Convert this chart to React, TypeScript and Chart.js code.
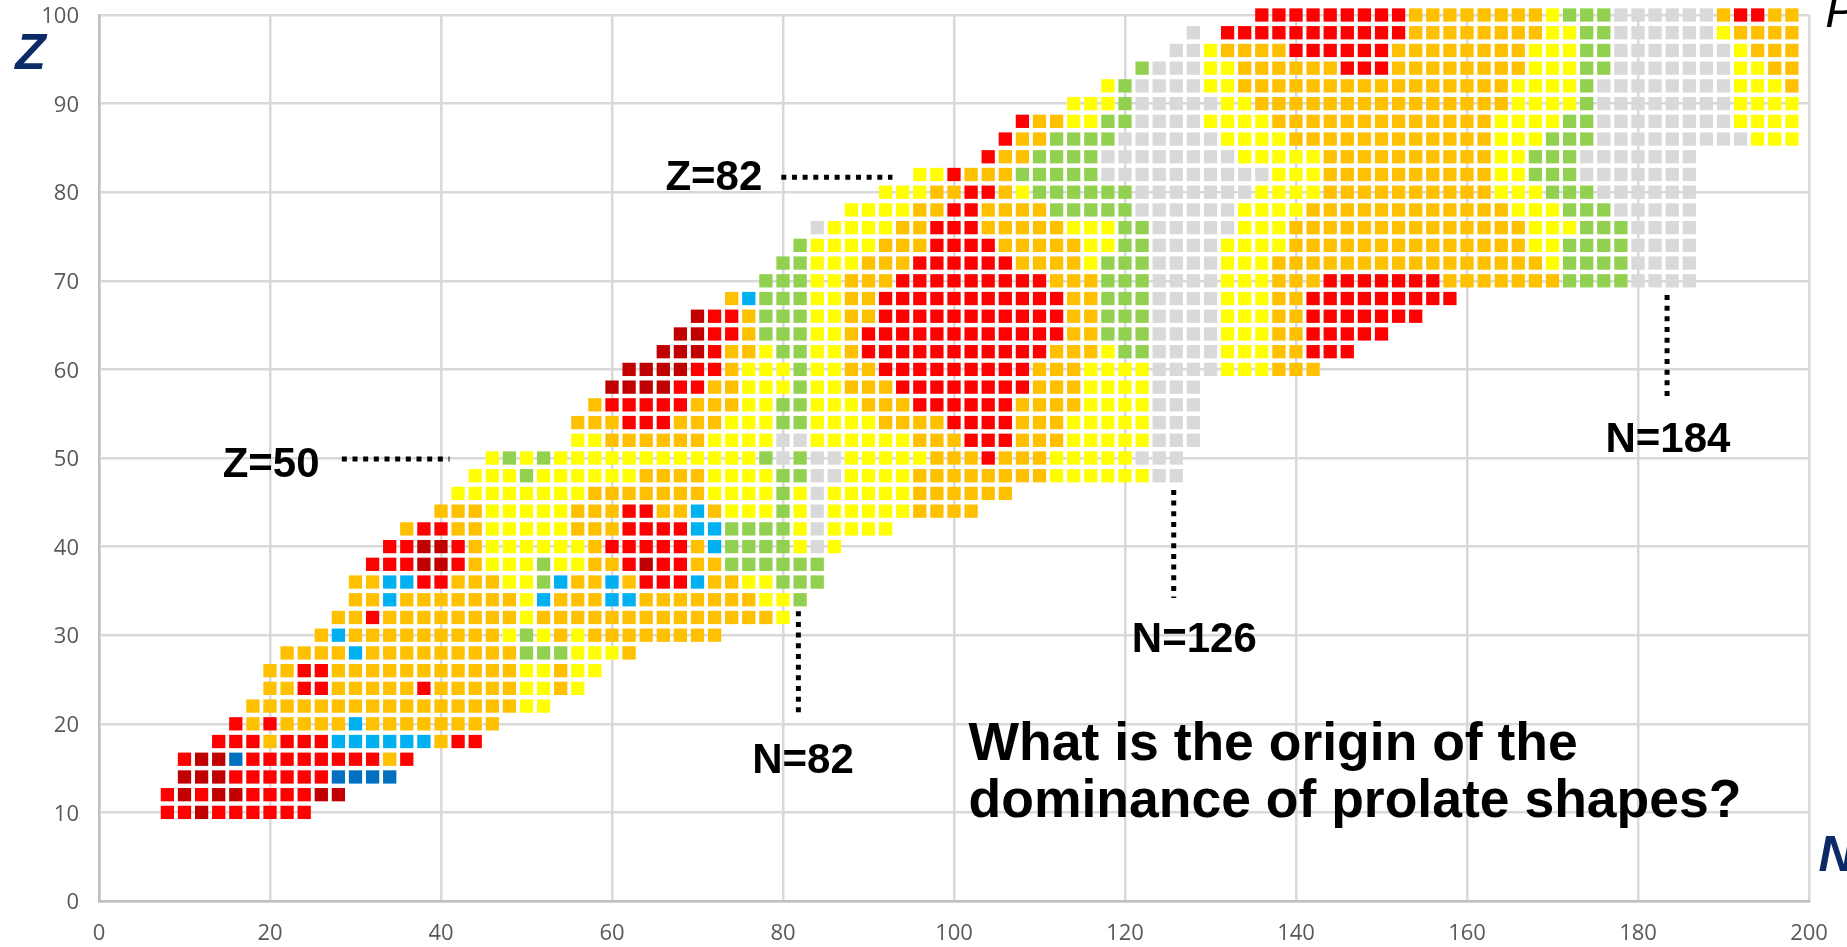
import React, { useEffect, useRef } from "react";
import { Chart, registerables } from "chart.js";

Chart.register(...registerables);

// Each row: proton number Z, first neutron number N, then run-length coded shape classes (N steps by 2)
const rowZ = [10, 12, 14, 16, 18, 20, 22, 24, 26, 28, 30, 32, 34, 36, 38, 40, 42, 44, 46, 48, 50, 52, 54, 56, 58, 60, 62, 64, 66, 68, 70, 72, 74, 76, 78, 80, 82, 84, 86, 88, 90, 92, 94, 96, 98, 98, 100];
const rowStartN = [8, 8, 10, 10, 14, 16, 18, 20, 20, 22, 26, 28, 30, 30, 32, 34, 36, 40, 42, 44, 46, 56, 56, 58, 60, 62, 66, 68, 70, 74, 78, 80, 82, 84, 88, 92, 96, 104, 106, 108, 114, 118, 122, 126, 128, 132, 136];
const rowClasses = [
  "r2 d r6",
  "r d r d2 r4 d2",
  "d3 r6 B4",
  "r d2 B r8 o r",
  "r3 o r3 b6 o r2",
  "r o r o4 b o8",
  "o16 y2",
  "o2 r2 o5 r o5 y2 o y",
  "o2 r2 o11 y2 o y2",
  "o4 b o9 g3 y3 o",
  "o b o9 y g y o y o8",
  "o2 r o8 y o14 y",
  "o2 b o7 y b o3 b2 o7 y2 g",
  "o2 b2 r2 o3 y2 g b o2 b o r3 b o2 y2 g3",
  "r3 d2 r o y3 g y2 o2 r d r2 o2 g6",
  "r2 d2 r o y6 o r5 o b g4 y s y",
  "o r2 o2 y5 o3 r4 b2 g4 y s y4",
  "o3 y5 o3 r2 o2 b o y3 g y s y5 o4",
  "y8 o7 y4 g y s y5 o6",
  "y3 g y6 o4 y4 g2 s2 y4 o8 y6 s2",
  "y g y g y12 g s g s2 y5 o3 r o3 y5 s3",
  "y2 o6 y4 s2 y6 o3 r3 o3 y5 s3",
  "o3 r3 o3 y3 g2 y4 o4 r4 o3 y5 s3",
  "o r5 o3 y2 g2 y3 o3 r6 o4 y4 s3",
  "d4 r2 o2 y3 g y2 o3 r8 o3 y4 s3",
  "d4 r2 o y3 g y2 o2 r9 o3 y4 s4 y3 o3",
  "d3 r o2 y g2 y2 o r11 o3 y g2 s4 y3 o2 r3",
  "d2 r2 o g3 y2 o r12 o2 g3 s4 y3 o2 r5",
  "d r2 o g3 y2 o2 r11 o2 g3 s4 y3 o2 r7",
  "o b g3 y2 o2 r11 o2 g3 s4 y3 o2 r9",
  "g3 y2 o3 r9 o3 g3 s4 y3 o3 r7 o7 g4 s4",
  "g2 y3 o3 r6 o4 y g3 s4 y3 o16 y g4 s4",
  "g y4 o3 r4 o5 y2 g2 s4 y4 o14 y2 g4 s4",
  "s y4 o2 r3 o5 y3 g2 s5 y3 o14 y3 g3 s4",
  "y4 o2 r2 o4 g5 s6 y4 o12 y3 g3 s5",
  "y3 o2 r2 o y g6 s7 y4 o10 y3 g3 s6",
  "y2 r o3 g5 s10 y3 o10 y2 g3 s7",
  "r o2 g4 s8 y5 o10 y2 g3 s7",
  "r o2 g4 s6 y4 o12 y3 g3 s9 y3",
  "r o2 y2 g2 s4 y4 o13 y4 g2 s8 y4",
  "y3 g s5 y2 o15 y4 g s8 y4",
  "y g s4 y2 o16 y4 g s8 y3 o",
  "g s3 y2 o6 r3 o8 y3 g2 s7 y2 o2",
  "s2 y o4 r6 o8 y3 g2 s7 y o3",
  "s",
  "r11 o8 y2 g2 s6 y o4",
  "r9 o8 y g3 s6 o r2 o2",
];

const classKeys = ["s", "g", "y", "o", "r", "d", "b", "B"];
const classColors = ["#d9d9d9", "#92d050", "#ffff00", "#ffc000", "#ff0000", "#c00000", "#00b0f0", "#0070c0"];

// Dotted guide lines for the magic numbers, in (N, Z)
const magicLines = [
  [[28.4, 49.9], [41, 49.9]],
  [[79.8, 81.7], [92.8, 81.7]],
  [[81.8, 32.7], [81.8, 20.8]],
  [[125.7, 46.4], [125.7, 34.2]],
  [[183.4, 68.4], [183.4, 56.4]],
];

// Annotations: text, N, Z, font, colour
const notes: [string, number, number, string, string][] = [
  ["Z=50", 14.46, 49.2, "bold 42px 'Liberation Sans'", "#000000"],
  ["Z=82", 66.25, 81.5, "bold 42px 'Liberation Sans'", "#000000"],
  ["N=82", 76.4, 15.7, "bold 42px 'Liberation Sans'", "#000000"],
  ["N=126", 120.8, 29.4, "bold 42px 'Liberation Sans'", "#000000"],
  ["N=184", 176.2, 52.0, "bold 42px 'Liberation Sans'", "#000000"],
  ["What is the origin of the", 101.7, 17.55, "bold 53.5px 'Liberation Sans'", "#000000"],
  ["dominance of prolate shapes?", 101.7, 11.2, "bold 53.5px 'Liberation Sans'", "#000000"],
  ["Z", -9.8, 95.5, "italic bold 50px 'Liberation Sans'", "#0b2a66"],
  ["N", 201.1, 4.9, "italic bold 50px 'Liberation Sans'", "#0b2a66"],
  ["P", 201.9, 100.1, "italic 48px 'Liberation Sans'", "#000000"],
];

function cellsFor(key: string) {
  const cells: { x: number; y: number }[] = [];
  rowZ.forEach((z, i) => {
    let n = rowStartN[i];
    for (const token of rowClasses[i].split(" ")) {
      const count = token.length > 1 ? Number(token.slice(1)) : 1;
      for (let k = 0; k < count; k++) {
        if (token[0] === key) cells.push({ x: n, y: z });
        n += 2;
      }
    }
  });
  return cells;
}

const notesPlugin = {
  id: "notes",
  afterDraw(chart: any) {
    const { ctx, scales } = chart;
    ctx.save();
    ctx.textAlign = "left";
    ctx.textBaseline = "middle";
    for (const [text, n, z, font, color] of notes) {
      ctx.font = font;
      ctx.fillStyle = color;
      ctx.fillText(text, scales.x.getPixelForValue(n), scales.y.getPixelForValue(z));
    }
    ctx.restore();
  },
};

export default function App() {
  const ref = useRef<HTMLCanvasElement>(null);
  useEffect(() => {
    const cellSets = classKeys.map((key, i) => ({
      type: "scatter" as const,
      label: key,
      data: cellsFor(key),
      pointStyle: "rect",
      pointRadius: 9.4,
      pointHoverRadius: 9.4,
      pointBorderWidth: 0,
      backgroundColor: classColors[i],
      borderColor: classColors[i],
      showLine: false,
      clip: false,
    }));
    const lineSets = magicLines.map((line, i) => ({
      type: "scatter" as const,
      label: "magic" + i,
      data: line.map(([x, y]) => ({ x, y })),
      showLine: true,
      pointRadius: 0,
      borderColor: "#000000",
      borderWidth: 5,
      borderDash: [5, 5.67],
    }));
    const chart = new Chart(ref.current!, {
      type: "scatter",
      data: { datasets: [...cellSets, ...lineSets] as any },
      plugins: [notesPlugin],
      options: {
        animation: false,
        responsive: false,
        layout: { padding: { left: 0, top: 15, right: 38, bottom: 0 } },
        plugins: { legend: { display: false }, tooltip: { enabled: false } },
        scales: {
          x: {
            type: "linear",
            min: 0,
            max: 200,
            ticks: { stepSize: 20, padding: 20, color: "#595959", font: { family: "'Open Sans'", size: 22 }, maxRotation: 0 },
            grid: { color: "#d9d9d9", lineWidth: 2.5, drawTicks: false },
            border: { color: "#bfbfbf", width: 2.5 },
            afterFit: (s: any) => { s.height = 46; s.paddingLeft = 0; s.paddingRight = 0; },
          },
          y: {
            type: "linear",
            min: 0,
            max: 100,
            ticks: { stepSize: 10, padding: 20, labelOffset: 2, color: "#595959", font: { family: "'Open Sans'", size: 22 } },
            grid: { color: "#d9d9d9", lineWidth: 2.5, drawTicks: false },
            border: { color: "#bfbfbf", width: 2.5 },
            afterFit: (s: any) => { s.width = 99; s.paddingTop = 0; s.paddingBottom = 0; },
          },
        },
      },
    });
    return () => chart.destroy();
  }, []);
  return (
    <div style={{ position: "absolute", left: 0, top: 0, width: 1847, height: 947, overflow: "hidden", background: "#fff" }}>
      <canvas ref={ref} width={1847} height={947} style={{ display: "block" }} />
    </div>
  );
}
